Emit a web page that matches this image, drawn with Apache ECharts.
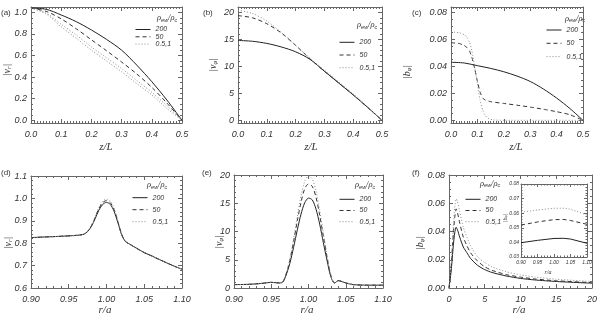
<!DOCTYPE html>
<html><head><meta charset="utf-8">
<script src="https://cdn.jsdelivr.net/npm/echarts@6/dist/echarts.min.js"></script>
<style>html,body{margin:0;padding:0;background:#fff}#c{width:600px;height:317px}</style>
</head><body><div id="c"></div>
<script>
// ---------------- data ----------------
const legendNames = ['200', '50', '0.5,1'];
// (a) |v_r| vs z/L
const zTicks = [0, 0.1, 0.2, 0.3, 0.4, 0.5];
const zA = [0, 0.05, 0.1, 0.15, 0.2, 0.25, 0.3, 0.35, 0.4, 0.45, 0.5];
const a200 = [1.04, 1.029, 0.976, 0.914, 0.837, 0.75, 0.65, 0.512, 0.358, 0.188, 0];
const a50  = [1.04, 1.01, 0.94, 0.848, 0.746, 0.645, 0.54, 0.43, 0.305, 0.16, 0];
const a05  = [1.04, 0.985, 0.867, 0.76, 0.65, 0.55, 0.45, 0.34, 0.235, 0.11, 0];
const a1   = [1.04, 0.995, 0.89, 0.79, 0.68, 0.58, 0.48, 0.37, 0.26, 0.135, 0];
const aYTicks = [0, 0.2, 0.4, 0.6, 0.8, 1.0];
// (b) |v_phi| vs z/L
const zB = [0, 0.05, 0.1, 0.15, 0.2, 0.25, 0.3, 0.35, 0.4, 0.45, 0.5];
const b200 = [14.8, 14.65, 14.25, 13.6, 12.7, 11.3, 9.1, 6.9, 4.7, 2.4, 0];
const b50  = [19.4, 19.0, 17.9, 16.2, 13.9, 11.4, 9.1, 6.9, 4.7, 2.4, 0];
const b05  = [20.4, 19.8, 18.4, 16.3, 13.9, 11.5, 9.3, 7.1, 4.9, 2.5, 0];
const vphiTicks = [0, 5, 10, 15, 20];
// (c) |b_phi| vs z/L
const c200z = [0, 0.05, 0.1, 0.15, 0.2, 0.25, 0.3, 0.35, 0.4, 0.45, 0.5];
const c200  = [0.043, 0.0425, 0.0405, 0.0385, 0.036, 0.0328, 0.0288, 0.0232, 0.0165, 0.0088, 0];
const c50z  = [0, 0.03, 0.05, 0.06, 0.07, 0.08, 0.09, 0.1, 0.11, 0.12, 0.13, 0.15, 0.2, 0.25, 0.3, 0.35, 0.4, 0.45, 0.5];
const c50   = [0.0575, 0.057, 0.0555, 0.054, 0.0515, 0.046, 0.038, 0.029, 0.021, 0.0165, 0.015, 0.0138, 0.0125, 0.0112, 0.0098, 0.0082, 0.0064, 0.0042, 0];
const c05z  = [0, 0.03, 0.05, 0.06, 0.07, 0.08, 0.09, 0.1, 0.11, 0.12, 0.13, 0.14, 0.16, 0.2, 0.3, 0.4, 0.5];
const c05   = [0.0655, 0.065, 0.0635, 0.0615, 0.058, 0.051, 0.039, 0.027, 0.015, 0.0075, 0.0035, 0.0015, 0.0003, 0, 0, 0, 0];
const bTicks = [0, 0.02, 0.04, 0.06, 0.08];
// (d) |v_r| vs r/a
const raTicks = [0.90, 0.95, 1.00, 1.05, 1.10];
const rD = [0.90, 0.92, 0.94, 0.96, 0.97, 0.975, 0.98, 0.985, 0.99, 0.995, 1.0, 1.005, 1.01, 1.015, 1.02, 1.025, 1.03, 1.04, 1.05, 1.06, 1.07, 1.08, 1.09, 1.10];
const d200 = [0.825, 0.828, 0.831, 0.835, 0.840, 0.852, 0.875, 0.910, 0.948, 0.973, 0.982, 0.973, 0.943, 0.893, 0.838, 0.808, 0.797, 0.777, 0.758, 0.743, 0.727, 0.712, 0.697, 0.684];
const d50  = [0.825, 0.828, 0.831, 0.835, 0.840, 0.853, 0.878, 0.915, 0.955, 0.981, 0.990, 0.981, 0.950, 0.898, 0.840, 0.808, 0.797, 0.777, 0.758, 0.743, 0.727, 0.712, 0.697, 0.684];
const d05  = [0.825, 0.828, 0.831, 0.835, 0.841, 0.854, 0.880, 0.919, 0.960, 0.987, 0.997, 0.988, 0.956, 0.902, 0.842, 0.809, 0.797, 0.777, 0.758, 0.743, 0.727, 0.712, 0.697, 0.684];
const dYTicks = [0.6, 0.7, 0.8, 0.9, 1.0, 1.1];
// (e) |v_phi| vs r/a
const rE = [0.90, 0.92, 0.94, 0.95, 0.96, 0.965, 0.97, 0.975, 0.98, 0.985, 0.99, 0.995, 1.0, 1.005, 1.01, 1.015, 1.02, 1.025, 1.03, 1.035, 1.04, 1.05, 1.06, 1.08, 1.10];
const e200 = [0.6, 0.65, 0.85, 1.0, 0.9, 1.0, 2.3, 4.4, 7.2, 10.3, 13.1, 15.1, 15.9, 15.6, 14.0, 11.3, 8.0, 4.8, 2.0, 0.9, 1.3, 0.9, 0.6, 0.5, 0.5];
const e50  = [0.6, 0.65, 0.85, 1.0, 0.9, 1.0, 2.5, 4.9, 8.2, 11.9, 15.2, 17.6, 18.4, 18.0, 16.1, 12.9, 9.1, 5.4, 2.2, 0.9, 1.3, 0.9, 0.6, 0.5, 0.5];
const e05  = [0.6, 0.65, 0.85, 1.0, 0.9, 1.0, 2.6, 5.2, 8.7, 12.7, 16.3, 18.9, 19.8, 19.3, 17.2, 13.7, 9.7, 5.7, 2.3, 0.9, 1.3, 0.9, 0.6, 0.5, 0.5];
// (f) |b_phi| vs r/a
const rTicksF = [0, 5, 10, 15, 20];
const rF = [0, 0.3, 0.6, 0.8, 1.0, 1.2, 1.5, 2, 2.5, 3, 4, 5, 6, 8, 10, 12, 15, 20];
const f200 = [0, 0.012, 0.03, 0.039, 0.043, 0.041, 0.036, 0.029, 0.025, 0.021, 0.016, 0.013, 0.011, 0.0085, 0.0068, 0.0057, 0.0046, 0.0034];
const f50  = [0, 0.015, 0.038, 0.05, 0.056, 0.053, 0.046, 0.036, 0.030, 0.025, 0.019, 0.015, 0.0125, 0.0095, 0.0077, 0.0064, 0.0051, 0.0038];
const f05  = [0, 0.017, 0.043, 0.057, 0.063, 0.061, 0.054, 0.043, 0.036, 0.030, 0.022, 0.018, 0.015, 0.0115, 0.0093, 0.0078, 0.0062, 0.0046];
// (f) inset
const rI = [0.90, 0.95, 1.00, 1.03, 1.05, 1.10];
const i200 = [0.0398, 0.0414, 0.0427, 0.0428, 0.0423, 0.0394];
const i50  = [0.0519, 0.0540, 0.0556, 0.0557, 0.0550, 0.0524];
const i05  = [0.0606, 0.0622, 0.0634, 0.0634, 0.0627, 0.0588];
const insetYTicks = [0.03, 0.04, 0.05, 0.06, 0.07, 0.08];

// ---------------- styles ----------------
const FRAME = '#666', TXT = '#333', FONT = 'Liberation Sans', TFONT = 'Liberation Serif';
const STY = {
  '200':   {color: '#222', type: 'solid', width: 1},
  '50':    {color: '#333', type: [4, 3], width: 1},
  '0.5,1': {color: '#8c8c8c', type: [1, 2], width: 1}
};

const grid = [], xAxis = [], yAxis = [], series = [], legend = [], graphic = [];
function ticksBetween(min, max, step) {
  const out = [];
  const n0 = Math.ceil(min / step - 1e-6), n1 = Math.floor(max / step + 1e-6);
  for (let i = n0; i <= n1; i++) out.push(+(i * step).toFixed(6));
  return out;
}
function addAxes(list, gi, dim, c) {
  const pos = dim === 'x' ? ['bottom', 'top'] : ['left', 'right'];
  const minors = ticksBetween(c.min, c.max, c.minorStep);
  const L = c.tick || 4;
  const base = () => ({type: 'value', gridIndex: gi, min: c.min, max: c.max, splitLine: {show: false}});
  const first = list.length;
  list.push(Object.assign(base(), {position: pos[0],
    axisLine: {show: true, onZero: false, lineStyle: {color: FRAME, width: 1}},
    axisTick: {show: true, inside: true, length: L, customValues: c.majors, lineStyle: {color: FRAME}},
    axisLabel: {show: true, customValues: c.majors, formatter: v => (+v).toFixed(c.dec), margin: c.margin,
      fontSize: c.fs, fontStyle: 'italic', color: TXT, fontFamily: FONT}}));
  list.push(Object.assign(base(), {position: pos[0], axisLine: {show: false, onZero: false},
    axisTick: {show: true, inside: true, length: L / 2, customValues: minors, lineStyle: {color: FRAME}},
    axisLabel: {show: false}}));
  list.push(Object.assign(base(), {position: pos[1],
    axisLine: {show: true, onZero: false, lineStyle: {color: FRAME, width: 1}},
    axisTick: {show: true, inside: true, length: L, customValues: c.majors, lineStyle: {color: FRAME}},
    axisLabel: {show: false}}));
  list.push(Object.assign(base(), {position: pos[1], axisLine: {show: false, onZero: false},
    axisTick: {show: true, inside: true, length: L / 2, customValues: minors, lineStyle: {color: FRAME}},
    axisLabel: {show: false}}));
  return first;
}
function panel(box, xc, yc) {
  const gi = grid.length;
  grid.push({left: box[0], top: box[1], width: box[2], height: box[3], containLabel: false});
  const xi = addAxes(xAxis, gi, 'x', xc);
  const yi = addAxes(yAxis, gi, 'y', yc);
  return {xi, yi};
}
function line(p, name, xs, ys, smooth) {
  const s = STY[name];
  series.push({type: 'line', name, xAxisIndex: p.xi, yAxisIndex: p.yi, symbol: 'none', showSymbol: false,
    smooth: smooth === undefined ? 0.3 : smooth, animation: false,
    lineStyle: {color: s.color, type: s.type, width: s.width}, itemStyle: {color: s.color},
    data: xs.map((x, i) => [x, ys[i]])});
}
function addLegend(left, top, gap, lh) {
  legend.push({data: legendNames, orient: 'vertical', left, top, padding: 0, itemWidth: 15, itemHeight: 6,
    itemGap: gap, selectedMode: false,
    itemStyle: {opacity: 0, borderWidth: 0},
    lineStyle: {width: 1},
    textStyle: {fontSize: 7, fontStyle: 'italic', color: TXT, fontFamily: FONT, lineHeight: lh}});
}
function txt(x, y, text, opts) {
  graphic.push(Object.assign({type: 'text', x, y, silent: true,
    style: Object.assign({text, fill: TXT, align: 'center', verticalAlign: 'middle'}, opts || {})}));
}
function richTitle(x, y, main, sub, rot, fs) {
  fs = fs || 10;
  graphic.push({type: 'text', x, y, rotation: rot || 0, silent: true,
    style: {text: '{m|' + main + '}{s|' + sub + '}{m||}', align: 'center', verticalAlign: 'middle', fill: TXT,
      rich: {m: {fontSize: fs, fontStyle: 'italic', fontFamily: TFONT, fill: TXT, verticalAlign: 'middle'},
             s: {fontSize: fs * 0.65, fontStyle: 'italic', fontFamily: TFONT, fill: TXT, verticalAlign: 'bottom', padding: [fs * 0.45, 0, 0, 0]}}}});
}
function rhoHeader(x, y) {
  graphic.push({type: 'text', x, y, silent: true,
    style: {text: '{m|ρ}{s|ew}{m|/ρ}{s|c}', align: 'left', verticalAlign: 'middle', fill: TXT,
      rich: {m: {fontSize: 8.5, fontStyle: 'italic', fontFamily: TFONT, fill: TXT, verticalAlign: 'middle'},
             s: {fontSize: 5.5, fontStyle: 'italic', fontFamily: FONT, fill: TXT, verticalAlign: 'bottom', padding: [4, 0, 0, 0]}}}});
}

// ---------------- panels ----------------
const zX = {min: 0, max: 0.5, majors: zTicks, minorStep: 0.01, dec: 1, margin: 7, fs: 9};
const raX = {min: 0.9, max: 1.1, majors: raTicks, minorStep: 0.01, dec: 2, margin: 7, fs: 9};

const pA = panel([31, 7, 151, 116], zX, {min: -0.025, max: 1.05, majors: aYTicks, minorStep: 0.05, dec: 1, margin: 4, fs: 9});
line(pA, '200', zA, a200); line(pA, '50', zA, a50); line(pA, '0.5,1', zA, a05); line(pA, '0.5,1', zA, a1);

const pB = panel([238, 7, 144, 116], zX, {min: -0.5, max: 21, majors: vphiTicks, minorStep: 1, dec: 0, margin: 4, fs: 9});
line(pB, '200', zB, b200); line(pB, '50', zB, b50); line(pB, '0.5,1', zB, b05);

const pC = panel([451, 7, 132, 116], zX, {min: -0.002, max: 0.084, majors: bTicks, minorStep: 0.005, dec: 2, margin: 4, fs: 9});
line(pC, '200', c200z, c200); line(pC, '50', c50z, c50, 0.15); line(pC, '0.5,1', c05z, c05, 0.15);

const pD = panel([31, 176, 151, 112], raX, {min: 0.6, max: 1.1, majors: dYTicks, minorStep: 0.02, dec: 1, margin: 4, fs: 9});
line(pD, '200', rD, d200); line(pD, '50', rD, d50); line(pD, '0.5,1', rD, d05);

const pE = panel([234, 175, 149, 113], raX, {min: 0, max: 20, majors: vphiTicks, minorStep: 1, dec: 0, margin: 4, fs: 9});
line(pE, '200', rE, e200); line(pE, '50', rE, e50); line(pE, '0.5,1', rE, e05);

const pF = panel([449, 175, 144, 113], {min: 0, max: 20, majors: rTicksF, minorStep: 1, dec: 0, margin: 7, fs: 9},
  {min: 0, max: 0.08, majors: bTicks, minorStep: 0.005, dec: 2, margin: 4, fs: 9});
line(pF, '200', rF, f200, 0.2); line(pF, '50', rF, f50, 0.2); line(pF, '0.5,1', rF, f05, 0.2);

const pI = panel([521, 184, 66, 73], {min: 0.9, max: 1.1, majors: raTicks, minorStep: 0.01, dec: 2, margin: 3, fs: 5, tick: 3},
  {min: 0.03, max: 0.08, majors: insetYTicks, minorStep: 0.002, dec: 2, margin: 2, fs: 5, tick: 3});
line(pI, '200', rI, i200, 0); line(pI, '50', rI, i50, 0); line(pI, '0.5,1', rI, i05, 0);

// ---------------- legends ----------------
addLegend(135, 26, 0.3, 6);
addLegend(339, 38.8, 5.7, 7);
addLegend(546, 26.5, 6.3, 7);
addLegend(132, 194.2, 5, 7);
addLegend(339, 195.8, 4.2, 7);
addLegend(465, 195.8, 4.2, 7);
rhoHeader(157, 18); rhoHeader(357, 25); rhoHeader(565, 18.3);
rhoHeader(147, 185); rhoHeader(355, 185); rhoHeader(480, 183.3);

// ---------------- labels & titles ----------------
const pl = {fontSize: 8, fontFamily: FONT, align: 'left'};
txt(1, 13, '(a)', pl); txt(203, 13, '(b)', pl); txt(412, 13, '(c)', pl);
txt(1, 173, '(d)', pl); txt(202, 173, '(e)', pl); txt(412, 173, '(f)', pl);
const xt = {fontSize: 11, fontStyle: 'italic', fontFamily: TFONT};
txt(106, 147, 'z/L', xt); txt(311, 147, 'z/L', xt); txt(516, 147, 'z/L', xt);
txt(105, 310, 'r/a', xt); txt(307, 310, 'r/a', xt); txt(519, 310, 'r/a', xt);
txt(548, 272, 'r/a', {fontSize: 6, fontStyle: 'italic', fontFamily: TFONT});
const R = Math.PI / 2;
richTitle(7, 70, '|v', 'r', R); richTitle(213, 65, '|v', 'φ', R); richTitle(407, 72, '|b', 'φ', R);
richTitle(8, 243, '|v', 'r', R); richTitle(219, 242, '|v', 'φ', R); richTitle(420, 243, '|b', 'φ', R);
richTitle(505, 218, '|b', 'φ', R, 6);

const chart = echarts.init(document.getElementById('c'), null, {renderer: 'canvas'});
chart.setOption({animation: false, backgroundColor: '#fff', grid, xAxis, yAxis, series, legend, graphic});
</script></body></html>
